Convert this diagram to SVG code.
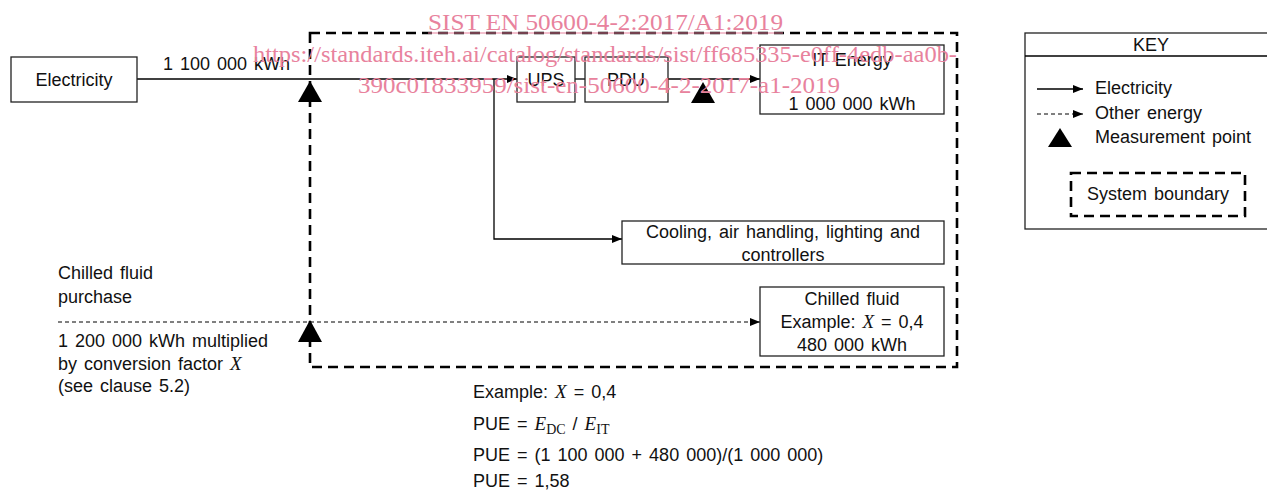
<svg xmlns="http://www.w3.org/2000/svg" width="1267" height="491" viewBox="0 0 1267 491">
<defs>
<marker id="arr" viewBox="0 0 10 10" refX="10" refY="5" markerWidth="10" markerHeight="10" markerUnits="userSpaceOnUse" orient="auto">
<path d="M0,1 L10,5 L0,9 z" fill="#000"/>
</marker>
<style>
.box{fill:#fff;stroke:#222;stroke-width:1.3}
.t{font-family:"Liberation Sans",Arial,sans-serif;font-size:18px;word-spacing:2px;fill:#111}
.m{text-anchor:middle}
.it{font-family:"Liberation Serif","Times New Roman",serif;font-style:italic;font-size:19px}
.sub{font-family:"Liberation Serif","Times New Roman",serif;font-size:14px}
.el{fill:none;stroke:#000;stroke-width:1.3}
.oe{fill:none;stroke:#000;stroke-width:1;stroke-dasharray:4 3}
.bd{fill:none;stroke:#000;stroke-width:2.6;stroke-dasharray:10 6}
.mp{fill:#000}
.wm{font-family:"Liberation Serif","Times New Roman",serif;font-size:24px;fill:#e8829d}
</style>
</defs>
<rect width="1267" height="491" fill="#fff"/>

<g id="boundary">
<rect class="bd" x="310" y="33" width="647" height="334"/>
</g>

<g id="connectors">
<line class="el" x1="137" y1="79" x2="517" y2="79" marker-end="url(#arr)"/>
<line class="el" x1="575" y1="79" x2="585" y2="79"/>
<line class="el" x1="668" y1="79" x2="760" y2="79" marker-end="url(#arr)"/>
<polyline class="el" points="494,79 494,239 622,239" marker-end="url(#arr)"/>
<line class="oe" x1="58" y1="322" x2="760" y2="322" marker-end="url(#arr)"/>
</g>

<g id="measurement-points">
<path class="mp" d="M310,81 L322,102 L298,102 z"/>
<path class="mp" d="M703,82 L715,103 L691,103 z"/>
<path class="mp" d="M310,320 L322,342 L298,342 z"/>
</g>

<g id="electricity">
<rect class="box" x="11" y="57" width="126" height="45"/>
<text class="t m" x="74" y="86">Electricity</text>
</g>
<text class="t" x="163" y="70">1 100 000 kWh</text>

<g id="ups">
<rect class="box" x="517" y="57" width="58" height="45"/>
<text class="t m" x="546" y="86">UPS</text>
</g>
<g id="pdu">
<rect class="box" x="585" y="57" width="83" height="45"/>
<text class="t m" x="626" y="86">PDU</text>
</g>
<g id="it-energy">
<rect class="box" x="760" y="45" width="184" height="69"/>
<text class="t m" x="852" y="66">IT Energy</text>
<text class="t m" x="852" y="110">1 000 000 kWh</text>
</g>
<g id="cooling">
<rect class="box" x="622" y="221" width="322" height="43"/>
<text class="t m" x="783" y="238">Cooling, air handling, lighting and</text>
<text class="t m" x="783" y="261">controllers</text>
</g>
<g id="chilled-fluid">
<rect class="box" x="760" y="287" width="184" height="69"/>
<text class="t m" x="852" y="305">Chilled fluid</text>
<text class="t m" x="852" y="328">Example: <tspan class="it">X</tspan> = 0,4</text>
<text class="t m" x="852" y="351">480 000 kWh</text>
</g>

<g id="chilled-purchase">
<text class="t" x="58" y="279">Chilled fluid</text>
<text class="t" x="58" y="303">purchase</text>
<text class="t" x="58" y="347">1 200 000 kWh multiplied</text>
<text class="t" x="58" y="370">by conversion factor <tspan class="it">X</tspan></text>
<text class="t" x="58" y="392">(see clause 5.2)</text>
</g>

<g id="formula">
<text class="t" x="473" y="398">Example: <tspan class="it">X</tspan> = 0,4</text>
<text class="t" x="473" y="430">PUE = <tspan class="it" font-size="20">E</tspan><tspan class="sub" dy="4">DC</tspan><tspan dy="-4"> / </tspan><tspan class="it" font-size="20">E</tspan><tspan class="sub" dy="4">IT</tspan></text>
<text class="t" x="473" y="461">PUE = (1 100 000 + 480 000)/(1 000 000)</text>
<text class="t" x="473" y="487">PUE = 1,58</text>
</g>

<g id="key">
<rect class="box" x="1025" y="33" width="260" height="196"/>
<line class="el" x1="1025" y1="56" x2="1267" y2="56"/>
<text class="t m" x="1151" y="51">KEY</text>
<line class="el" x1="1037" y1="89" x2="1083" y2="89" marker-end="url(#arr)"/>
<text class="t" x="1095" y="94">Electricity</text>
<line class="oe" x1="1037" y1="114" x2="1083" y2="114" marker-end="url(#arr)"/>
<text class="t" x="1095" y="119">Other energy</text>
<path class="mp" d="M1060,128 L1072,147 L1048,147 z"/>
<text class="t" x="1095" y="143" word-spacing="9">Measurement point</text>
<rect class="bd" x="1071" y="173" width="174" height="43"/>
<text class="t" x="1087" y="200">System boundary</text>
</g>

<g id="watermark">
<text class="wm" x="428" y="30" textLength="355" lengthAdjust="spacingAndGlyphs">SIST EN 50600-4-2:2017/A1:2019</text>
<line x1="428" y1="33" x2="783" y2="33" stroke="#e8829d" stroke-width="1.2"/>
<text class="wm" x="253" y="62" textLength="704" lengthAdjust="spacingAndGlyphs">https://standards.iteh.ai/catalog/standards/sist/ff685335-e0ff-4edb-aa0b-</text>
<text class="wm" x="358" y="93" textLength="482" lengthAdjust="spacingAndGlyphs">390c01833959/sist-en-50600-4-2-2017-a1-2019</text>
</g>
</svg>
